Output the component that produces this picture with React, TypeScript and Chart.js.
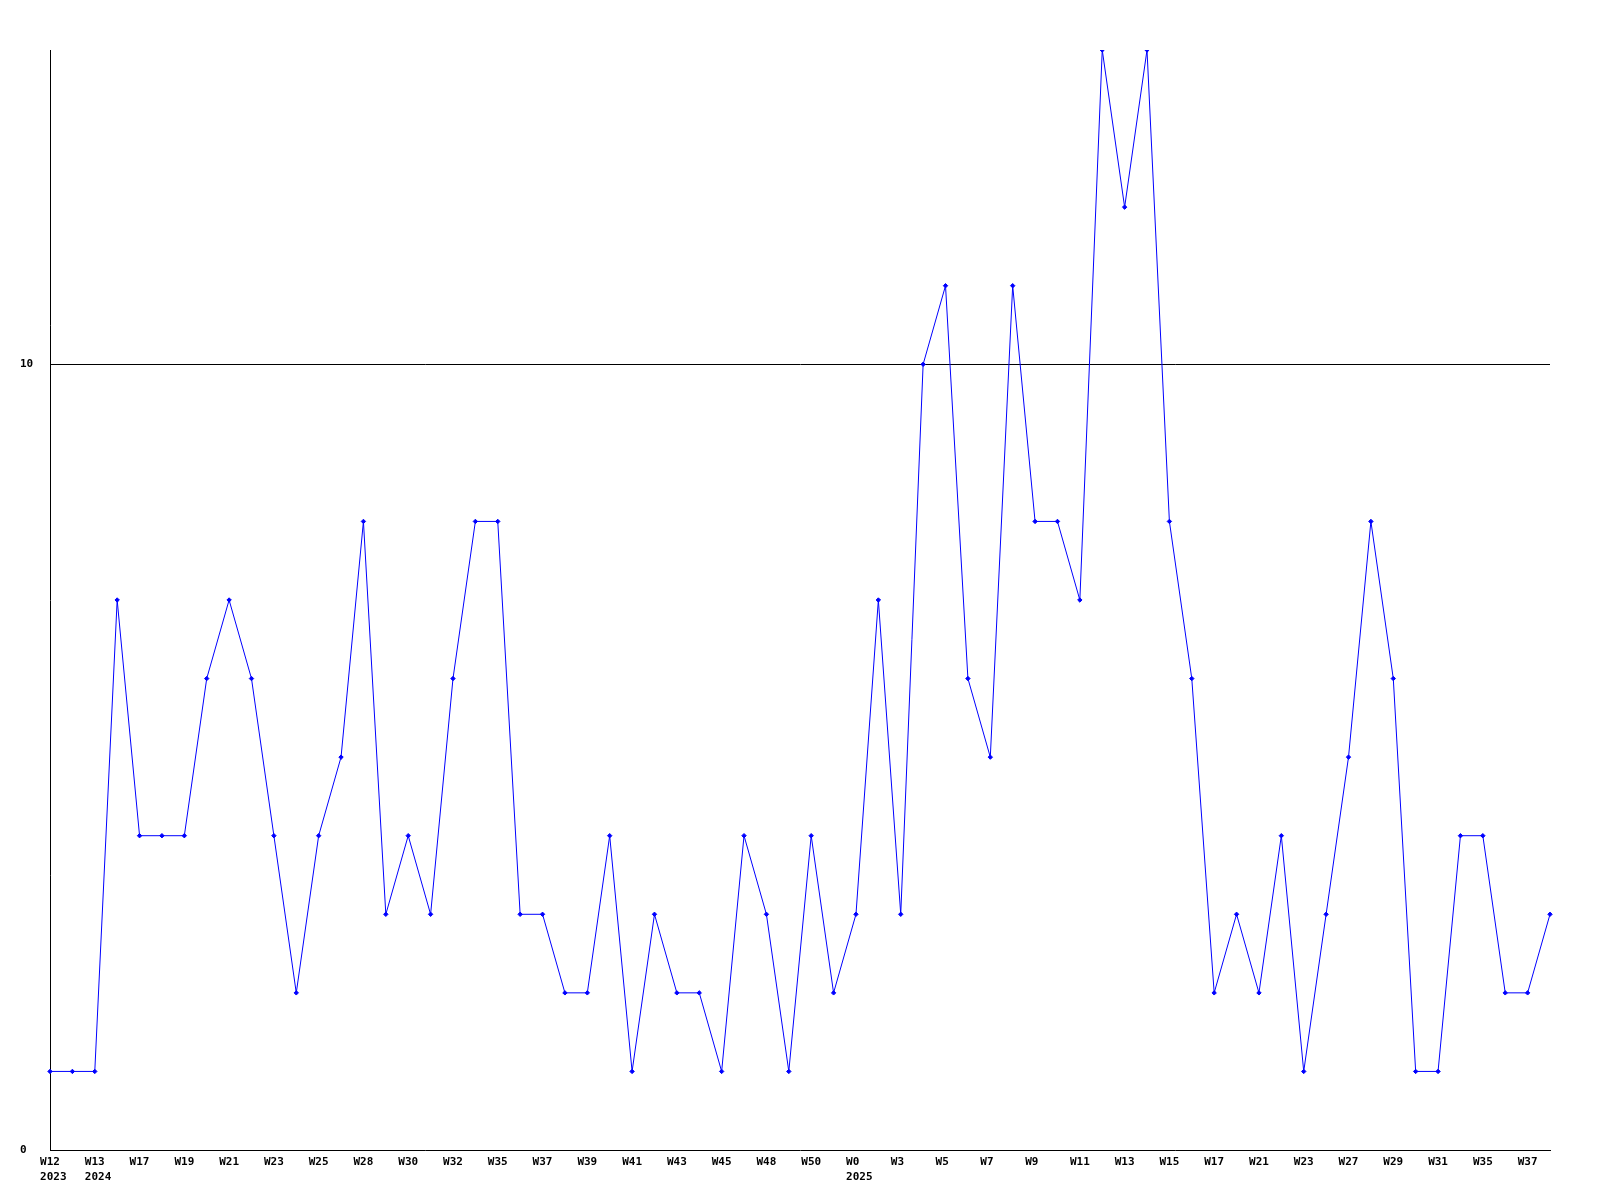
import React, { useEffect, useRef } from "react";
import { Chart, registerables } from "chart.js";

Chart.register(...registerables);

// Category tick labels (only every other category is labelled in the reference)
const weekLabels: string[] = [
  "W12", "", "W13", "", "W17", "", "W19", "", "W21", "", "W23", "", "W25", "", "W28", "", "W30", "", "W32", "",
  "W35", "", "W37", "", "W39", "", "W41", "", "W43", "", "W45", "", "W48", "", "W50", "", "W0", "", "W3", "",
  "W5", "", "W7", "", "W9", "", "W11", "", "W13", "", "W15", "", "W17", "", "W21", "", "W23", "", "W27", "",
  "W29", "", "W31", "", "W35", "", "W37", "",
];
const yearLabels: string[] = [
  "2023", "", "2024", "", "", "", "", "", "", "", "", "", "", "", "", "", "", "", "", "",
  "", "", "", "", "", "", "", "", "", "", "", "", "", "", "", "", "2025", "", "", "",
  "", "", "", "", "", "", "", "", "", "", "", "", "", "", "", "", "", "", "", "",
  "", "", "", "", "", "", "", "",
];

const values: number[] = [
  1, 1, 1, 7, 4, 4, 4, 6, 7, 6, 4, 2, 4, 5, 8, 3, 4, 3, 6, 8,
  8, 3, 3, 2, 2, 4, 1, 3, 2, 2, 1, 4, 3, 1, 4, 2, 3, 7, 3, 10,
  11, 6, 5, 11, 8, 8, 7, 14, 12, 14, 8, 6, 2, 3, 2, 4, 1, 3, 5, 8,
  6, 1, 1, 4, 4, 2, 2, 3,
];

const yTicks: number[] = [0, 10];
const yMin = 0;
const yMax = 14;

export default function App() {
  const ref = useRef<HTMLCanvasElement | null>(null);

  useEffect(() => {
    document.body.style.margin = "0";
    if (!ref.current) return;
    const font = { family: "'DejaVu Sans Mono', monospace", size: 11, weight: "bold" as const, lineHeight: 15 / 11 };
    // Monospace padding so every line starts at the same x (left-aligned look, centred on the point)
    const labels = weekLabels.map((w, i) => {
      if (!w) return "";
      const wk = w.padEnd(3, " ");
      return yearLabels[i] ? [wk, " " + yearLabels[i]] : wk;
    });
    const chart = new Chart(ref.current, {
      type: "line",
      data: {
        labels,
        datasets: [
          {
            data: values,
            borderColor: "#0000ff",
            backgroundColor: "#0000ff",
            borderWidth: 1,
            tension: 0,
            pointStyle: "rectRot",
            pointRadius: 2.2,
            pointBorderWidth: 1,
            pointBackgroundColor: "#0000ff",
            pointBorderColor: "#0000ff",
          },
        ],
      },
      options: {
        animation: false,
        responsive: true,
        maintainAspectRatio: false,
        layout: { padding: { left: 20, right: 50, top: 50, bottom: 0 } },
        plugins: { legend: { display: false }, tooltip: { enabled: false } },
        scales: {
          x: {
            offset: false,
            grid: { display: true, color: "rgba(0,0,0,0)", drawTicks: false },
            border: { display: true, color: "#000000", width: 1 },
            ticks: {
              autoSkip: false,
              maxRotation: 0,
              minRotation: 0,
              padding: 5,
              color: "#000000",
              font,
            },
            afterFit: (scale: any) => {
              scale.height = 50;
            },
          },
          y: {
            min: yMin,
            max: yMax,
            afterBuildTicks: (scale: any) => {
              scale.ticks = yTicks.map((v) => ({ value: v }));
            },
            grid: {
              drawTicks: false,
              color: (ctx: any) => (ctx.tick && ctx.tick.value === 10 ? "#000000" : "rgba(0,0,0,0)"),
              lineWidth: 1,
            },
            border: { display: true, color: "#000000", width: 1 },
            ticks: {
              crossAlign: "far",
              padding: 0,
              color: "#000000",
              font,
            },
            afterFit: (scale: any) => {
              scale.width = 30;
            },
          },
        },
      },
    });
    return () => chart.destroy();
  }, []);

  return (
    <div style={{ position: "absolute", left: 0, top: 0, width: 1600, height: 1200, background: "#ffffff" }}>
      <canvas ref={ref} />
    </div>
  );
}
